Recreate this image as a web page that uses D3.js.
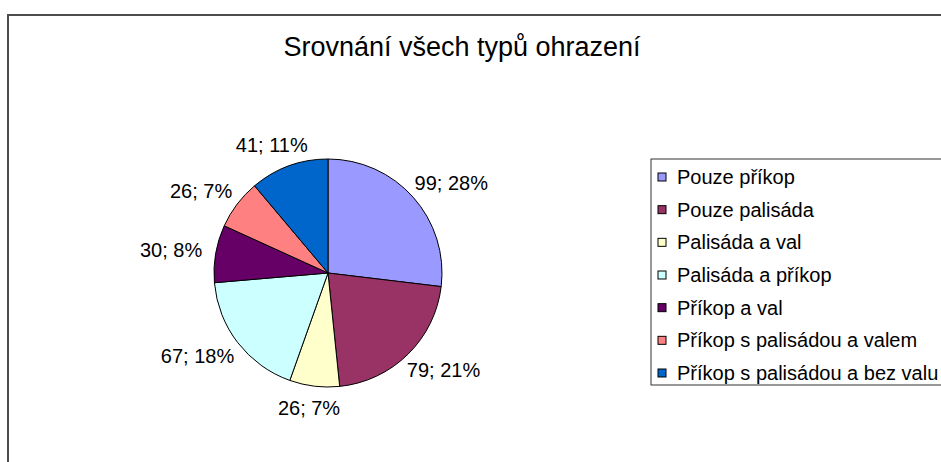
<!DOCTYPE html>
<html>
<head>
<meta charset="utf-8">
<script src="https://cdn.jsdelivr.net/npm/d3@7"></script>
<style>
body { margin: 0; background: #fff; }
text { font-family: "Liberation Sans", Arial, sans-serif; fill: #000; }
</style>
</head>
<body>
<svg width="941" height="462"></svg>
<script>
var title = "Srovnání všech typů ohrazení";
var categories = ["Pouze příkop", "Pouze palisáda", "Palisáda a val", "Palisáda a příkop",
		"Příkop a val", "Příkop s palisádou a valem", "Příkop s palisádou a bez valu"];
var values = [99, 79, 26, 67, 30, 26, 41];
var percents = ["28%", "21%", "7%", "18%", "8%", "7%", "11%"];
var colors = ["#9999ff", "#993366", "#ffffcc", "#ccffff", "#660066", "#ff8080", "#0066cc"];

var svg = d3.select("svg"),
		cx = 328, cy = 273, radius = 114;

// chart frame, runs off the right and bottom edges
svg.append("rect")
		.attr("x", 8).attr("y", 15)
		.attr("width", 1000).attr("height", 500)
		.attr("fill", "#fff")
		.attr("stroke", "#4d4d4d")
		.attr("stroke-width", 2);

svg.append("text")
		.attr("x", 462).attr("y", 56)
		.attr("text-anchor", "middle")
		.style("font-size", "27px")
		.text(title);

var data = categories.map(function(c, i) {
	return {name: c, value: values[i], pct: percents[i], color: colors[i]};
});

var pie = d3.pie().sort(null).value(function(d) { return d.value; });
var arc = d3.arc().innerRadius(0).outerRadius(radius);
var arcs = pie(data);

var g = svg.append("g").attr("transform", "translate(" + cx + "," + cy + ")");

g.selectAll(".slice")
	.data(arcs)
	.enter().append("path")
		.attr("class", "slice")
		.attr("d", arc)
		.attr("fill", function(d) { return d.data.color; })
		.attr("stroke", "#000")
		.attr("stroke-width", 1);

// labels outside the pie, box pushed away from the rim
var labelR = radius + 14;
g.selectAll(".lbl")
	.data(arcs)
	.enter().append("text")
		.attr("class", "lbl")
		.style("font-size", "20px")
		.attr("text-anchor", "middle")
		.attr("dy", "0.35em")
		.text(function(d) { return d.data.value + "; " + d.data.pct; })
		.each(function(d) {
			var a = (d.startAngle + d.endAngle) / 2,
					bb = this.getBBox(),
					px = Math.sin(a) * labelR,
					py = -Math.cos(a) * labelR;
			d3.select(this)
				.attr("x", px + Math.sin(a) * bb.width / 2)
				.attr("y", py - Math.cos(a) * 8);
		});

// legend
var lx = 651, ly = 159;
svg.append("rect")
		.attr("x", lx).attr("y", ly)
		.attr("width", 320).attr("height", 226)
		.attr("fill", "#fff")
		.attr("stroke", "#333")
		.attr("stroke-width", 1);

var rowY = d3.scalePoint().domain(categories).range([177, 373]);

var item = svg.selectAll(".item")
	.data(data)
	.enter().append("g")
		.attr("class", "item")
		.attr("transform", function(d) { return "translate(0," + rowY(d.name) + ")"; });

item.append("rect")
		.attr("x", 658).attr("y", -4)
		.attr("width", 8).attr("height", 8)
		.attr("fill", function(d) { return d.color; })
		.attr("stroke", "#000")
		.attr("stroke-width", 1);

item.append("text")
		.attr("x", 677)
		.attr("dy", "0.35em")
		.style("font-size", "20px")
		.text(function(d) { return d.name; });
</script>
</body>
</html>
